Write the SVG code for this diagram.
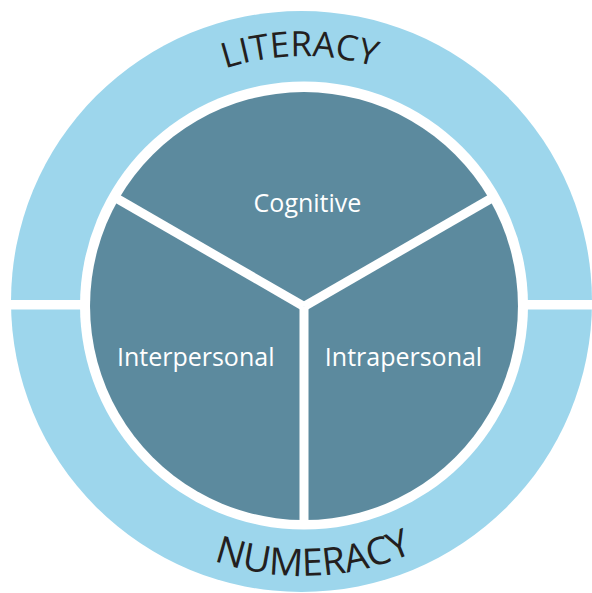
<svg xmlns="http://www.w3.org/2000/svg" width="592" height="593" viewBox="0 0 592 593">
  <defs>
    <style>
      .ring { fill: #9dd6ec; }
      .sector { fill: #5c8a9e; }
      .div { stroke: #ffffff; stroke-width: 9; fill: none; }
      .lbl { font-family: "Open Sans", "Liberation Sans", sans-serif; font-size: 25px; fill: #ffffff; text-anchor: middle; }
      .arc { font-family: "Open Sans", "Liberation Sans", sans-serif; fill: #231f20; text-anchor: middle; }
    </style>
    <path id="litPath" d="M 55 304 A 248 248 0 0 1 551 304"/>
    <path id="numPath" d="M 31 304 A 272 272 0 0 0 575 304"/>
  </defs>
  <rect width="592" height="593" fill="#ffffff"/>
  <g id="outer-ring">
    <circle class="ring" cx="301.5" cy="301.5" r="290.5"/>
    <rect x="0" y="300" width="592" height="9.5" fill="#ffffff"/>
    <circle cx="304" cy="305.5" r="224" fill="#ffffff"/>
  </g>
  <g id="literacy">
    <text class="arc" font-size="35"><textPath href="#litPath" startOffset="386">LITERACY</textPath></text>
  </g>
  <g id="numeracy">
    <text class="arc" font-size="38"><textPath href="#numPath" startOffset="438">NUMERACY</textPath></text>
  </g>
  <g id="cognitive">
    <path class="sector" d="M 304 306 L 118.7 199 A 214 214 0 0 1 489.3 199 Z"/>
    <text class="lbl" x="307.5" y="212">Cognitive</text>
  </g>
  <g id="intrapersonal">
    <path class="sector" d="M 304 306 L 489.3 199 A 214 214 0 0 1 304 520 Z"/>
    <text class="lbl" x="403.5" y="366">Intrapersonal</text>
  </g>
  <g id="interpersonal">
    <path class="sector" d="M 304 306 L 304 520 A 214 214 0 0 1 118.7 199 Z"/>
    <text class="lbl" x="195.7" y="366">Interpersonal</text>
  </g>
  <g id="connectors">
    <line class="div" x1="304" y1="306.5" x2="304" y2="525"/>
    <line class="div" x1="304" y1="306.5" x2="115.2" y2="197.5"/>
    <line class="div" x1="304" y1="306.5" x2="492.8" y2="197.5"/>
  </g>
</svg>
